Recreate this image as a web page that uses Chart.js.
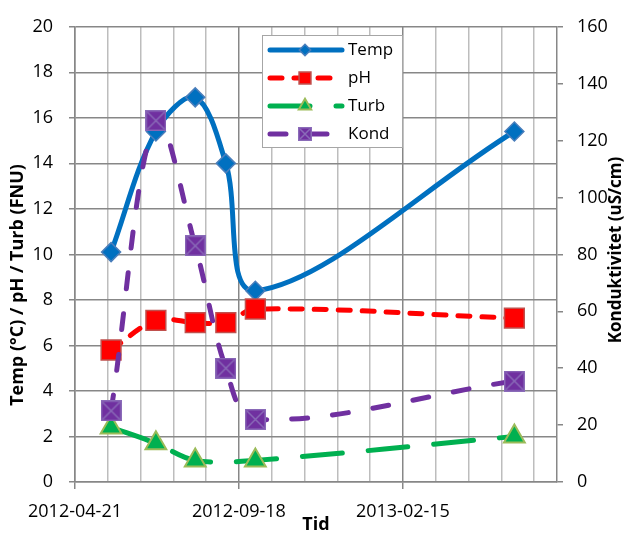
<!DOCTYPE html>
<html>
<head>
<meta charset="utf-8">
<script src="https://cdn.jsdelivr.net/npm/chart.js@4.4.1/dist/chart.umd.min.js"></script>
<style>
  body { margin: 0; background: #fff; }
  canvas { display: block; }
</style>
</head>
<body>
<canvas id="chart" width="626" height="534"></canvas>
<script>
// sampling dates and measured values
const dates = ['2012-05-24', '2012-07-04', '2012-08-09', '2012-09-06', '2012-10-03', '2013-05-28'];
const temp = [10.1, 15.4, 16.9, 14.0, 8.4, 15.4];
const ph = [5.8, 7.1, 7.0, 7.0, 7.6, 7.2];
const turb = [2.4, 1.7, 0.95, null, 0.95, 2.0];
const kond = [25, 127, 83, 40, 22, 35.5];

// date axis: days counted from the axis start
const axisStart = '2012-04-21';
const axisDays = 441;
const majorDays = 150;
const minorDays = 30;

const DAY = 86400000;
const days = d => (Date.parse(d) - Date.parse(axisStart)) / DAY;
const fmtDate = v => new Date(Date.parse(axisStart) + v * DAY).toISOString().slice(0, 10);
const xy = vals => dates.map((d, i) => ({ x: days(d), y: vals[i] }));

const dark = '#878787';
const light = '#BDBDBD';

Chart.defaults.font.family = "'Open Sans', sans-serif";
Chart.defaults.color = '#000';

// purple square with a cross, like the Excel marker
function crossSquare(size) {
  const cv = document.createElement('canvas');
  cv.width = size + 1;
  cv.height = size + 1;
  const c = cv.getContext('2d');
  c.fillStyle = '#7030A0';
  c.fillRect(0.5, 0.5, size, size);
  c.strokeStyle = '#8A6BB8';
  c.lineWidth = 1.5;
  c.strokeRect(0.75, 0.75, size - 0.5, size - 0.5);
  c.beginPath();
  c.moveTo(2, 2); c.lineTo(size - 1, size - 1);
  c.moveTo(size - 1, 2); c.lineTo(2, size - 1);
  c.stroke();
  return cv;
}
const kondMarker = crossSquare(20);
const kondLegendMarker = crossSquare(13);

const extras = {
  id: 'extras',
  afterDraw(chart) {
    const c = chart.ctx;
    c.save();
    c.fillStyle = '#000';
    c.textAlign = 'center';
    c.textBaseline = 'middle';
    c.font = "bold 18px 'Open Sans'";
    c.fillText('Tid', 316, 525);

    c.save();
    c.translate(18, 285);
    c.rotate(-Math.PI / 2);
    c.font = "bold 18px 'Open Sans'";
    c.fillText('Temp (°C) / pH / Turb (FNU)', 0, 0);
    c.restore();

    c.save();
    c.translate(616, 250);
    c.rotate(-Math.PI / 2);
    c.font = "bold 17px 'Open Sans'";
    c.fillText('Konduktivitet (uS/cm)', 0, 0);
    c.restore();

    // legend box
    c.fillStyle = '#fff';
    c.fillRect(262, 35, 140, 112);
    c.strokeStyle = '#A6A6A6';
    c.lineWidth = 1;
    c.strokeRect(262.5, 35.5, 140, 112);

    const rows = [50, 78, 106, 134];
    chart.data.datasets.forEach((ds, i) => {
      const y = rows[i];
      c.save();
      c.strokeStyle = ds.borderColor;
      c.lineWidth = ds.borderWidth;
      c.lineCap = 'round';
      c.setLineDash(ds.borderDash || []);
      c.beginPath();
      c.moveTo(270, y);
      c.lineTo(342, y);
      c.stroke();
      c.restore();

      c.save();
      c.fillStyle = ds.pointBackgroundColor || '#000';
      c.strokeStyle = ds.pointBorderColor || '#000';
      c.lineWidth = ds.pointBorderWidth || 0;
      Chart.helpers.drawPoint(c, {
        pointStyle: ds.legendStyle || ds.pointStyle,
        radius: ds.pointRadius * 0.6,
        rotation: 0,
        borderWidth: ds.pointBorderWidth || 0
      }, 305, y);
      c.restore();

      c.fillStyle = '#000';
      c.font = "17px 'Open Sans'";
      c.textAlign = 'left';
      c.fillText(ds.label, 348, y);
    });
    c.restore();
  }
};

new Chart(document.getElementById('chart'), {
  type: 'line',
  data: {
    datasets: [
      {
        label: 'Temp', data: xy(temp), yAxisID: 'y', order: 4,
        borderColor: '#0070C0', borderWidth: 5, tension: 0.35,
        pointStyle: 'rectRot', pointRadius: 9.5,
        pointBackgroundColor: '#0070C0', pointBorderColor: '#4A7EBB', pointBorderWidth: 1.5
      },
      {
        label: 'pH', data: xy(ph), yAxisID: 'y', order: 3,
        borderColor: '#FF0000', borderWidth: 5, borderDash: [12, 12], borderCapStyle: 'round', tension: 0.35,
        pointStyle: 'rect', pointRadius: 14,
        pointBackgroundColor: '#FF0000', pointBorderColor: '#C0504D', pointBorderWidth: 1.5
      },
      {
        label: 'Turb', data: xy(turb), yAxisID: 'y', order: 2, spanGaps: true,
        borderColor: '#00B050', borderWidth: 5, borderDash: [40, 26], borderCapStyle: 'round', tension: 0.35,
        pointStyle: 'triangle', pointRadius: 12,
        pointBackgroundColor: '#00B050', pointBorderColor: '#9BBB59', pointBorderWidth: 2
      },
      {
        label: 'Kond', data: xy(kond), yAxisID: 'y2', order: 1,
        borderColor: '#7030A0', borderWidth: 5, borderDash: [16, 25], borderCapStyle: 'round', tension: 0.35,
        pointStyle: kondMarker, legendStyle: kondLegendMarker, pointRadius: 10,
        pointBackgroundColor: '#7030A0', pointBorderColor: '#8A6BB8', pointBorderWidth: 0
      }
    ]
  },
  options: {
    responsive: false,
    animation: false,
    events: [],
    layout: { padding: { top: 17, left: 0, right: 0, bottom: 0 } },
    plugins: { legend: { display: false }, tooltip: { enabled: false } },
    scales: {
      x: {
        type: 'linear', min: 0, max: axisDays,
        afterBuildTicks: s => {
          s.ticks = [];
          for (let v = 0; v <= axisDays; v += minorDays) s.ticks.push({ value: v });
        },
        afterFit: s => { s.height = 52; },
        ticks: {
          autoSkip: false, maxRotation: 0, padding: 12, font: { size: 18 },
          callback: v => (v % majorDays === 0 ? fmtDate(v) : '')
        },
        grid: {
          lineWidth: 1.5, tickLength: 7,
          color: c => (c.tick && c.tick.value % majorDays === 0 ? dark : light),
          tickColor: c => (c.tick && c.tick.value % majorDays === 0 ? dark : 'rgba(0,0,0,0)')
        },
        border: { color: dark, width: 1.5 }
      },
      y: {
        position: 'left', min: 0, max: 20,
        afterFit: s => { s.width = 75; },
        ticks: { stepSize: 2, padding: 16, font: { size: 18 } },
        grid: { color: dark, lineWidth: 1.5, tickLength: 6 },
        border: { color: dark, width: 1.5 }
      },
      y2: {
        position: 'right', min: 0, max: 160,
        afterFit: s => { s.width = 69; },
        ticks: { stepSize: 20, padding: 14, font: { size: 18 } },
        grid: { drawOnChartArea: false, color: dark, lineWidth: 1.5, tickLength: 6 },
        border: { color: dark, width: 1.5 }
      }
    }
  },
  plugins: [extras]
});
</script>
</body>
</html>
